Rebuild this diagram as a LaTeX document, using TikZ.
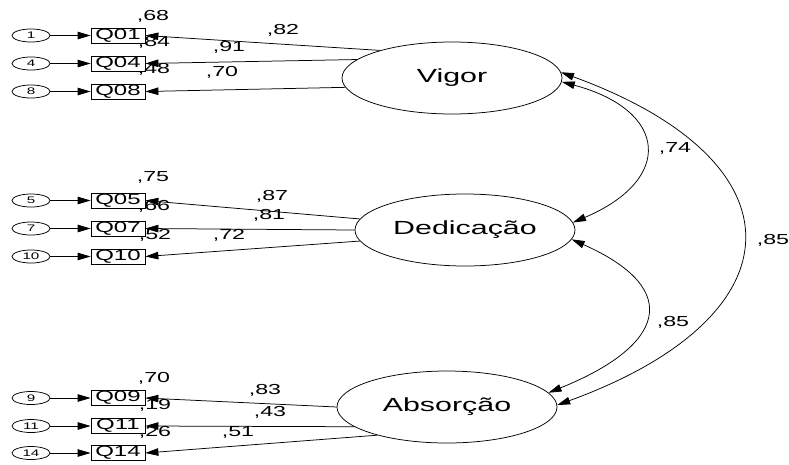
\documentclass[tikz,border=0pt]{standalone}
\usepackage{fontspec}
\newfontfamily\amosfont[FakeStretch=1.6]{Liberation Sans}
\usetikzlibrary{arrows.meta,shapes.geometric}

\begin{document}
\begin{tikzpicture}[x=1pt,y=1pt,line width=0.75pt,>={Triangle[length=13pt,width=7.5pt]}]
        %
        % `latent' is used for the three factors (big ellipses).
        % `item' is used for the observed items, `err' for their error terms.
        % `coef' is used for the printed estimates.
        \tikzstyle{latent} = [draw,ellipse,minimum width=220pt,minimum height=72pt,inner sep=0pt,font=\amosfont\fontsize{19}{21}\selectfont]
        \tikzstyle{item} = [draw,rectangle,minimum width=54pt,minimum height=15pt,inner sep=0pt,font=\amosfont\fontsize{15}{16}\selectfont]
        \tikzstyle{err} = [draw,ellipse,minimum width=38pt,minimum height=13pt,inner sep=0pt,font=\amosfont\fontsize{9.5}{10}\selectfont]
        \tikzstyle{coef} = [inner sep=0pt,font=\amosfont\fontsize{14.5}{16}\selectfont]
        %
        \useasboundingbox (0,0) rectangle (789,-464);
        %
        % Factors
        \node[latent] (vigor) at (452,-78) {Vigor};
        \node[latent] (dedic) at (465,-230) {Dedicação};
        \node[latent] (absorc) at (447,-407) {Absorção};
        %
        % Errors
        \node[err] (e1) at (31,-35.5) {1};
        \node[err] (e4) at (31,-63.5) {4};
        \node[err] (e8) at (31,-91.5) {8};
        \node[err] (e5) at (31,-200.5) {5};
        \node[err] (e7) at (31,-228.5) {7};
        \node[err] (e10) at (31,-256.5) {10};
        \node[err] (e9) at (31,-398) {9};
        \node[err] (e11) at (31,-426) {11};
        \node[err] (e14) at (31,-453) {14};
        %
        % Items
        \node[item] (q01) at (118,-35.5) {Q01} edge [<-] (e1);
        \node[item] (q04) at (118,-63.5) {Q04} edge [<-] (e4);
        \node[item] (q08) at (118,-91.5) {Q08} edge [<-] (e8);
        \node[item] (q05) at (118,-200.5) {Q05} edge [<-] (e5);
        \node[item] (q07) at (118,-228.5) {Q07} edge [<-] (e7);
        \node[item] (q10) at (118,-256.5) {Q10} edge [<-] (e10);
        \node[item] (q09) at (118,-398) {Q09} edge [<-] (e9);
        \node[item] (q11) at (118,-426) {Q11} edge [<-] (e11);
        \node[item] (q14) at (118,-453) {Q14} edge [<-] (e14);
        %
        % Loadings
        \draw[->] (vigor.159) -- (q01.east);
        \draw[->] (vigor.169) -- (q04.east);
        \draw[->] (vigor.185) -- (q08.east);
        \draw[->] (dedic.174) -- (q05.east);
        \draw[->] (dedic.180) -- (q07.east);
        \draw[->] (dedic.186) -- (q10.east);
        \draw[->] (absorc.180) -- (q09.east);
        \draw[->] (absorc.192) -- (q11.east);
        \draw[->] (absorc.202) -- (q14.east);
        %
        % Covariances
        \draw[<->] (vigor.-2) to[out=-15,in=23,looseness=2] (dedic.4);
        \draw[<->] (dedic.-5) to[out=-24,in=22,looseness=2.05] (absorc.8);
        \draw[<->] (vigor.3) to[out=-20,in=20,looseness=2] (absorc.1);
        %
        % Estimates: squared correlations
        \node[coef] (r01) at (153,-16) {,68};
        \node[coef] (r04) at (154,-42) {,84};
        \node[coef] (r08) at (154,-69) {,48};
        \node[coef] (r05) at (153,-177) {,75};
        \node[coef] (r07) at (154,-206) {,66};
        \node[coef] (r10) at (155,-235) {,52};
        \node[coef] (r09) at (154,-378) {,70};
        \node[coef] (r11) at (155,-405) {,19};
        \node[coef] (r14) at (155,-432) {,26};
        %
        % Estimates: loadings
        \node[coef] (l01) at (283,-30) {,82};
        \node[coef] (l04) at (229,-47) {,91};
        \node[coef] (l08) at (222,-72) {,70};
        \node[coef] (l05) at (272,-196) {,87};
        \node[coef] (l07) at (269,-215) {,81};
        \node[coef] (l10) at (229,-235) {,72};
        \node[coef] (l09) at (265,-390) {,83};
        \node[coef] (l11) at (270,-412) {,43};
        \node[coef] (l14) at (238,-432) {,51};
        %
        % Estimates: correlations
        \node[coef] (cvd) at (675,-148) {,74};
        \node[coef] (cda) at (673,-322) {,85};
        \node[coef] (cva) at (773,-240) {,85};
        %
\end{tikzpicture}
\end{document}
